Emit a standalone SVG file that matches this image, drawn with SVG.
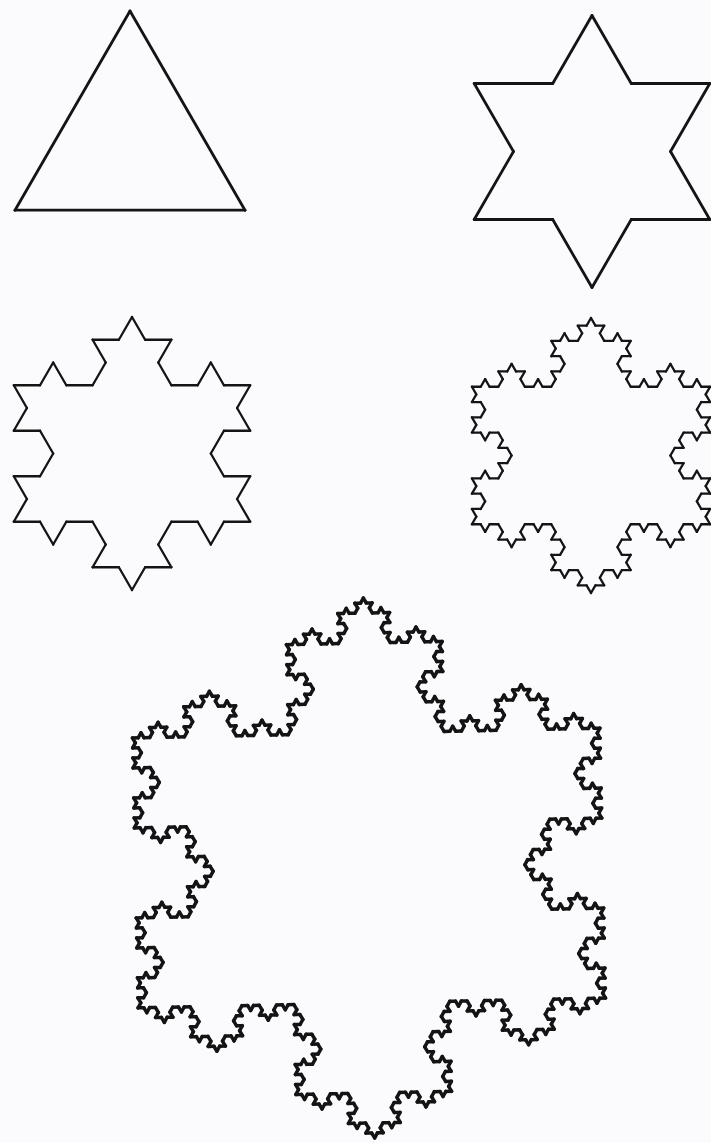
<svg xmlns="http://www.w3.org/2000/svg" width="711" height="1143" viewBox="0 0 711 1143">
<style>
.fig{fill:none;stroke:#141414;stroke-linecap:round;stroke-linejoin:round}
</style>
<defs>
<path id="k0" d="M0 0H300"/>
<g id="k1">
<use href="#k0" transform="scale(0.333333)"/>
<use href="#k0" transform="translate(100 0) rotate(-60) scale(0.333333)"/>
<use href="#k0" transform="translate(150 -86.6025) rotate(60) scale(0.333333)"/>
<use href="#k0" transform="translate(200 0) scale(0.333333)"/>
</g>
<g id="k2">
<use href="#k1" transform="scale(0.333333)"/>
<use href="#k1" transform="translate(100 0) rotate(-60) scale(0.333333)"/>
<use href="#k1" transform="translate(150 -86.6025) rotate(60) scale(0.333333)"/>
<use href="#k1" transform="translate(200 0) scale(0.333333)"/>
</g>
<g id="k3">
<use href="#k2" transform="scale(0.333333)"/>
<use href="#k2" transform="translate(100 0) rotate(-60) scale(0.333333)"/>
<use href="#k2" transform="translate(150 -86.6025) rotate(60) scale(0.333333)"/>
<use href="#k2" transform="translate(200 0) scale(0.333333)"/>
</g>
<g id="k4">
<use href="#k3" transform="scale(0.333333)"/>
<use href="#k3" transform="translate(100 0) rotate(-60) scale(0.333333)"/>
<use href="#k3" transform="translate(150 -86.6025) rotate(60) scale(0.333333)"/>
<use href="#k3" transform="translate(200 0) scale(0.333333)"/>
</g>
<g id="sf0">
<use href="#k0" transform="translate(0 -173.205) rotate(60)"/>
<use href="#k0" transform="translate(150 86.6025) rotate(180)"/>
<use href="#k0" transform="translate(-150 86.6025) rotate(-60)"/>
</g>
<g id="sf1">
<use href="#k1" transform="translate(0 -173.205) rotate(60)"/>
<use href="#k1" transform="translate(150 86.6025) rotate(180)"/>
<use href="#k1" transform="translate(-150 86.6025) rotate(-60)"/>
</g>
<g id="sf2">
<use href="#k2" transform="translate(0 -173.205) rotate(60)"/>
<use href="#k2" transform="translate(150 86.6025) rotate(180)"/>
<use href="#k2" transform="translate(-150 86.6025) rotate(-60)"/>
</g>
<g id="sf3">
<use href="#k3" transform="translate(0 -173.205) rotate(60)"/>
<use href="#k3" transform="translate(150 86.6025) rotate(180)"/>
<use href="#k3" transform="translate(-150 86.6025) rotate(-60)"/>
</g>
<g id="sf4">
<use href="#k4" transform="translate(0 -173.205) rotate(60)"/>
<use href="#k4" transform="translate(150 86.6025) rotate(180)"/>
<use href="#k4" transform="translate(-150 86.6025) rotate(-60)"/>
</g>
</defs>
<rect width="711" height="1143" fill="#fbfafd"/>
<g id="iteration0" class="fig" stroke-width="3.65" transform="translate(130 143.8) scale(0.7667)"><use href="#sf0"/></g>
<g id="iteration1" class="fig" stroke-width="10.7" transform="translate(592 151.5) scale(0.7852)"><use href="#sf1"/></g>
<g id="iteration2" class="fig" stroke-width="26.3" transform="translate(132 453.5) scale(0.7881)"><use href="#sf2"/></g>
<g id="iteration3" class="fig" stroke-width="78" transform="translate(591 455.5) scale(0.7939)"><use href="#sf3"/></g>
<g id="iteration4" class="fig" stroke-width="182" transform="translate(369 868) rotate(-1.2) scale(1.5588)"><use href="#sf4"/></g>
<g id="connectors"/>
</svg>
